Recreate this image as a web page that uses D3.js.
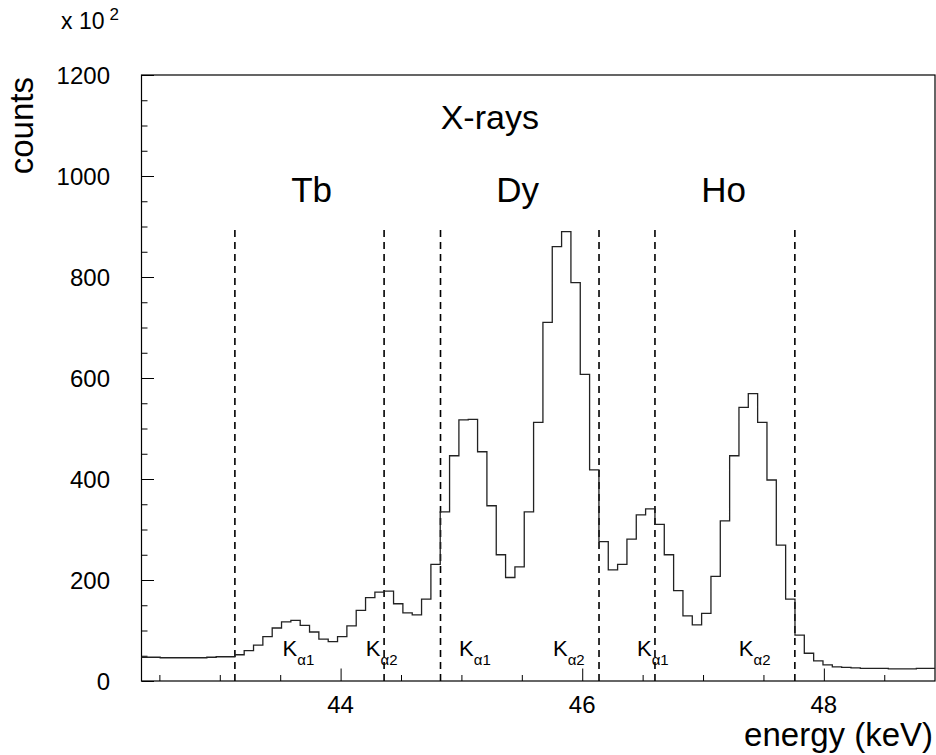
<!DOCTYPE html>
<html>
<head>
<meta charset="utf-8">
<script src="https://cdn.jsdelivr.net/npm/d3@7"></script>
<style>
  body { margin: 0; background: #fff; }
  text { font-family: "Liberation Sans", Arial, Helvetica, sans-serif; fill: #000; }
</style>
</head>
<body>
<div id="chart"></div>
<script>
// histogram binning (keV)
var xMin = 42.352, xMax = 48.92;
var nBins = 85;

// counts (x 10^2) per bin
var counts = [
  47, 47, 46, 46, 46, 46, 46, 47, 48, 48,
  52, 60, 71, 88, 105, 117, 120, 110, 97, 83,
  78, 88, 109, 140, 165, 176, 178, 153, 135, 131,
  162, 231, 335, 446, 517, 518, 454, 347, 250, 205,
  226, 335, 512, 710, 860, 890, 789, 607, 418, 276,
  220, 231, 281, 329, 341, 310, 250, 179, 129, 111,
  134, 207, 317, 446, 542, 569, 512, 398, 269, 162,
  91, 55, 40, 32, 28, 27, 26, 25, 25, 25,
  24, 24, 24, 25, 25
];

// dashed region boundaries (keV)
var boundaries = [43.125, 44.36, 44.827, 46.139, 46.602, 47.76];
var boundaryTop = 903;

var elements = ["Tb", "Dy", "Ho"];
var elementX = [43.76, 45.466, 47.17];

var kLines = ["\u03b11", "\u03b12", "\u03b11", "\u03b12", "\u03b11", "\u03b12"];
var kX = [43.52, 44.209, 44.981, 45.758, 46.453, 47.296];

var xMajor = [44, 46, 48];
var yMajor = [0, 200, 400, 600, 800, 1000, 1200];

(function () {
  var width = 936,
    height = 755;
  var left = 141.5, right = 935, top = 75, bottom = 681;

  var svg = d3.select("#chart")
    .append("svg")
    .attr("width", width)
    .attr("height", height);

  var x = d3.scaleLinear().domain([xMin, xMax]).range([left, right]);
  var y = d3.scaleLinear().domain([0, 1200]).range([bottom, top]);

  var binW = (xMax - xMin) / nBins;
  var pts = counts.map(function (c, i) { return [xMin + i * binW, c]; });
  pts.push([xMax, counts[counts.length - 1]]);

  // frame
  svg.append("rect")
    .attr("x", left).attr("y", top)
    .attr("width", right - left).attr("height", bottom - top)
    .attr("fill", "none").attr("stroke", "#000").attr("stroke-width", 1.2);

  // y axis ticks (inside)
  var yAxis = d3.axisRight(y)
    .tickValues(d3.range(0, 1201, 50))
    .tickSize(0)
    .tickFormat("");
  var gy = svg.append("g").attr("transform", "translate(" + left + ",0)").call(yAxis);
  gy.select(".domain").remove();
  gy.selectAll(".tick line")
    .attr("x2", function (d) { return d % 200 === 0 ? 12.5 : 6; })
    .attr("stroke", "#000");

  svg.selectAll(".ylab")
    .data(yMajor)
    .enter().append("text")
    .attr("class", "ylab")
    .attr("x", 110)
    .attr("y", function (d) { return y(d) + 8.5; })
    .attr("text-anchor", "end")
    .style("font-size", "24px")
    .text(function (d) { return d; });

  // x axis ticks (inside)
  var xAxis = d3.axisTop(x)
    .tickValues(d3.range(42.5, 48.91, 0.5))
    .tickSize(0)
    .tickFormat("");
  var gx = svg.append("g").attr("transform", "translate(0," + bottom + ")").call(xAxis);
  gx.select(".domain").remove();
  gx.selectAll(".tick line")
    .attr("y2", function (d) { return xMajor.indexOf(d) >= 0 ? -12.5 : -6; })
    .attr("stroke", "#000");

  svg.selectAll(".xlab")
    .data(xMajor)
    .enter().append("text")
    .attr("class", "xlab")
    .attr("x", function (d) { return x(d); })
    .attr("y", 713)
    .attr("text-anchor", "middle")
    .style("font-size", "24px")
    .text(function (d) { return d; });

  // axis titles
  svg.append("text")
    .attr("x", 933).attr("y", 746)
    .attr("text-anchor", "end")
    .style("font-size", "33px")
    .text("energy (keV)");

  svg.append("text")
    .attr("transform", "translate(33,77) rotate(-90)")
    .attr("text-anchor", "end")
    .style("font-size", "33px")
    .text("counts");

  var mult = svg.append("text").attr("x", 61).attr("y", 29).style("font-size", "23px");
  mult.append("tspan").text("x 10");
  mult.append("tspan").attr("dx", 5).attr("dy", -9).style("font-size", "17px").text("2");

  // dashed boundaries
  svg.selectAll(".bound")
    .data(boundaries)
    .enter().append("line")
    .attr("class", "bound")
    .attr("x1", function (d) { return x(d); })
    .attr("x2", function (d) { return x(d); })
    .attr("y1", y(0))
    .attr("y2", y(boundaryTop))
    .attr("stroke", "#000")
    .attr("stroke-width", 1.6)
    .attr("stroke-dasharray", "7,5");

  // histogram
  var line = d3.line()
    .x(function (d) { return x(d[0]); })
    .y(function (d) { return y(d[1]); })
    .curve(d3.curveStepAfter);

  svg.append("path")
    .datum(pts)
    .attr("d", line)
    .attr("fill", "none")
    .attr("stroke", "#222")
    .attr("stroke-width", 1.3);

  // labels
  svg.append("text")
    .attr("x", x(45.235)).attr("y", 129)
    .attr("text-anchor", "middle")
    .style("font-size", "34px")
    .text("X-rays");

  svg.selectAll(".elem")
    .data(elements)
    .enter().append("text")
    .attr("class", "elem")
    .attr("x", function (d, i) { return x(elementX[i]); })
    .attr("y", 202)
    .attr("text-anchor", "middle")
    .style("font-size", "35px")
    .text(function (d) { return d; });

  var kl = svg.selectAll(".klab")
    .data(kLines)
    .enter().append("text")
    .attr("class", "klab")
    .attr("x", function (d, i) { return x(kX[i]); })
    .attr("y", 656)
    .style("font-size", "22px");
  kl.append("tspan").text("K");
  kl.append("tspan")
    .attr("dy", 9)
    .style("font-size", "15px")
    .text(function (d) { return d; });
})();
</script>
</body>
</html>
